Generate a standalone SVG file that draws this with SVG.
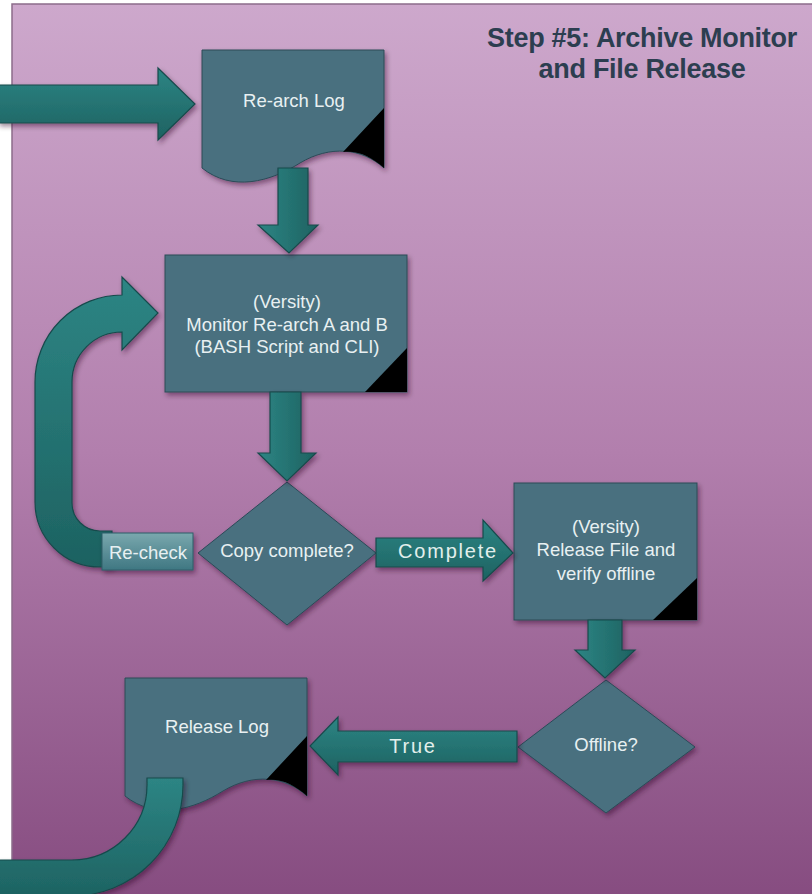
<svg xmlns="http://www.w3.org/2000/svg" width="812" height="894" viewBox="0 0 812 894">
  <defs>
    <linearGradient id="bg" x1="0" y1="0" x2="0" y2="1">
      <stop offset="0" stop-color="#cda8cc"/>
      <stop offset="0.5" stop-color="#b27fad"/>
      <stop offset="1" stop-color="#864c80"/>
    </linearGradient>
    <linearGradient id="teal" x1="0" y1="0" x2="0" y2="1">
      <stop offset="0" stop-color="#2d8584"/>
      <stop offset="1" stop-color="#1d6261"/>
    </linearGradient>
    <linearGradient id="tealV" x1="0" y1="0" x2="1" y2="0">
      <stop offset="0" stop-color="#2d8584"/>
      <stop offset="1" stop-color="#1d6261"/>
    </linearGradient>
    <linearGradient id="recheck" x1="0" y1="0" x2="0" y2="1">
      <stop offset="0" stop-color="#7aa8ae"/>
      <stop offset="1" stop-color="#3f7782"/>
    </linearGradient>
    <filter id="sh" x="-20%" y="-20%" width="140%" height="140%">
      <feDropShadow dx="2" dy="3" stdDeviation="2.5" flood-color="#2a1028" flood-opacity="0.45"/>
    </filter>
  </defs>
  <style>
    .node { fill: #48707f; stroke: #2c4a58; stroke-width: 1; filter: url(#sh); }
    .corner { fill: #000; }
    .arrow { fill: url(#teal); stroke: #184a4c; stroke-width: 1.2; filter: url(#sh); }
    .arrowV { fill: url(#tealV); stroke: #184a4c; stroke-width: 1.2; filter: url(#sh); }
    .t { font-family: "Liberation Sans", Arial, sans-serif; font-size: 18.5px; fill: #e8f0f2; text-anchor: middle; }
    .lbl { font-family: "Liberation Sans", Arial, sans-serif; font-size: 20px; fill: #e2efec; text-anchor: middle; letter-spacing: 1.8px; }
    .title { font-family: "Liberation Sans", Arial, sans-serif; font-size: 27px; font-weight: bold; fill: #2c3e50; text-anchor: middle; letter-spacing: -0.3px; }
  </style>

  <rect x="0" y="0" width="812" height="894" fill="#ffffff"/>
  <rect x="12" y="4" width="805" height="895" fill="url(#bg)" stroke="#8c6c8a" stroke-width="1.5"/>

  <g id="title">
    <text class="title" x="642" y="47">Step #5: Archive Monitor</text>
    <text class="title" x="642" y="78">and File Release</text>
  </g>

  <g id="node-rearch-log">
    <path class="node" d="M202,50 H384 V168 C362,148 330,145 300,163 C270,182 232,192 202,168 Z"/>
    <path class="corner" d="M384,108 L343,152 C358,150 372,157 384,168 Z"/>
    <text class="t" x="294" y="107">Re-arch Log</text>
  </g>

  <g id="node-monitor">
    <rect class="node" x="165" y="255" width="242" height="137"/>
    <polygon class="corner" points="407,348 407,392 365,392"/>
    <text class="t" x="287" y="308">(Versity)</text>
    <text class="t" x="287" y="331">Monitor Re-arch A and B</text>
    <text class="t" x="287" y="353">(BASH Script and CLI)</text>
  </g>

  <g id="node-copy-complete">
    <polygon class="node" points="287,482 376,553 287,625 198,553"/>
    <text class="t" x="287" y="557">Copy complete?</text>
  </g>

  <g id="node-release-file">
    <rect class="node" x="514" y="483" width="183" height="137"/>
    <polygon class="corner" points="697,578 697,620 653,620"/>
    <text class="t" x="606" y="533">(Versity)</text>
    <text class="t" x="606" y="556">Release File and</text>
    <text class="t" x="606" y="580">verify offline</text>
  </g>

  <g id="node-offline">
    <polygon class="node" points="606,680 695,747 606,813 518,747"/>
    <text class="t" x="606" y="751">Offline?</text>
  </g>

  <g id="node-release-log">
    <path class="node" d="M125,678 H307 V796 C285,776 253,773 223,791 C193,810 155,820 125,796 Z"/>
    <path class="corner" d="M307,736 L266,780 C281,778 295,785 307,796 Z"/>
    <text class="t" x="217" y="733">Release Log</text>
  </g>

  <g id="connectors">
    <!-- incoming arrow from left -->
    <path class="arrow" d="M-2,85 H158 V68 L195,104 L158,140 V123 H-2 Z"/>
    <!-- Re-arch Log to Monitor -->
    <path class="arrowV" d="M278,168 H308 V225 H318 L289,253 L258,225 H278 Z"/>
    <!-- Monitor to Copy complete -->
    <path class="arrowV" d="M270,392 H301 V453 H316 L287,481 L258,453 H270 Z"/>
    <!-- Complete arrow -->
    <path class="arrow" d="M376,538 H483 V520 L513,553 L483,581 V567 H376 Z"/>
    <text class="lbl" x="448" y="558">Complete</text>
    <!-- Re-check loop -->
    <path class="arrow" d="M112,531 L100,531 A28,28 0 0 1 72,503 L72,382 A50,50 0 0 1 122,332 L122,350 L158,313 L122,277 L122,295 A87,87 0 0 0 35,382 L35,502 A65,65 0 0 0 100,567 L112,567 Z"/>
    <rect x="102" y="533" width="91" height="37" fill="url(#recheck)" stroke="#2f5f68" stroke-width="1" filter="url(#sh)"/>
    <text class="t" x="148" y="559" fill="#f2f6f7">Re-check</text>
    <!-- Release File to Offline -->
    <path class="arrowV" d="M588,620 H622 V650 H635 L605,678 L575,650 H588 Z"/>
    <!-- True arrow -->
    <path class="arrow" d="M517,731 H338 V717 L310,746 L338,775 V762 H517 Z"/>
    <text class="lbl" x="413" y="753">True</text>
    <!-- outgoing curved arrow from Release Log -->
    <path class="arrow" d="M147,778 L147,785 A75,75 0 0 1 72,860 L-2,860 L-2,900 L72,896 A111,111 0 0 0 183,785 L183,778 Z"/>
  </g>
</svg>
